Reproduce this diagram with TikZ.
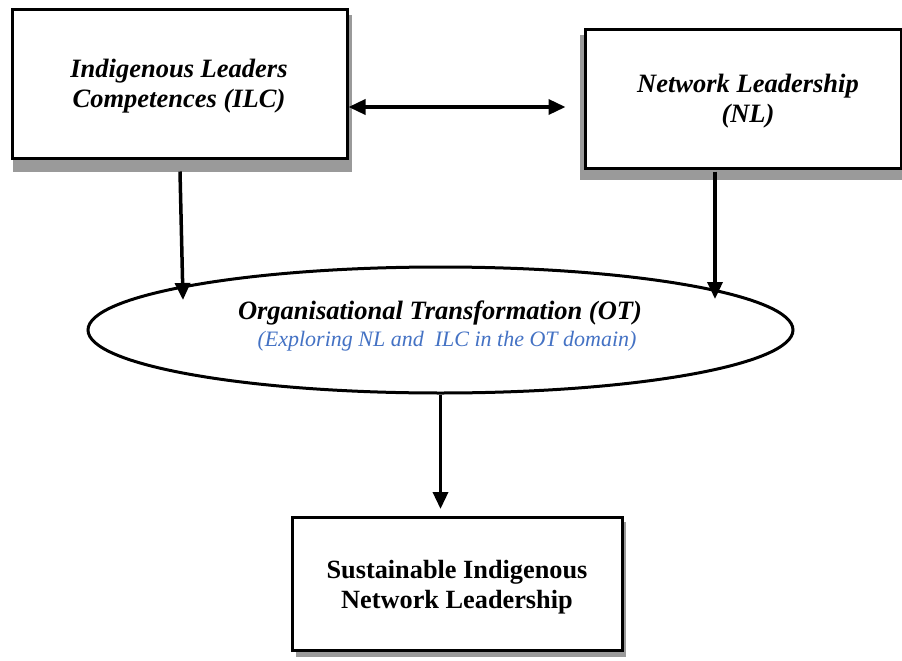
\documentclass[tikz,border=0pt]{standalone}
\usepackage{fontspec}
\setmainfont{Liberation Serif}
\usetikzlibrary{arrows.meta,shapes.geometric,calc}
\definecolor{notebl}{HTML}{4472C4}
\definecolor{shadowgray}{HTML}{9A9A9A}
\begin{document}
\begin{tikzpicture}[x=1pt,y=-1pt,
  box/.style={draw=black,line width=3pt,fill=white,rectangle,align=center,inner sep=0pt},
  oval/.style={draw=black,line width=3pt,fill=white,ellipse,inner sep=0pt},
  tip/.style={Triangle[length=17pt,width=15pt]},
  arr/.style={line width=3.5pt,-{Triangle[length=17pt,width=15pt]}},
  darr/.style={line width=3.5pt,{Triangle[length=17pt,width=15pt]}-{Triangle[length=17pt,width=15pt]}},
  lbl/.style={font=\fontsize{26.5}{30}\selectfont\bfseries\itshape,align=center},
]
\useasboundingbox (0,0) rectangle (902,661);
% drop shadows behind the boxes
\fill[shadowgray] (13,15) rectangle (352,172);
\fill[shadowgray] (580,35) rectangle (902,180);
\fill[shadowgray] (296,522) rectangle (626,657);
% boxes
\node[box,minimum width=335pt,minimum height=148pt] (ilc) at (179.5,84) {};
\node[box,minimum width=316pt,minimum height=138pt] (nl) at (743,99) {};
\node[box,minimum width=330pt,minimum height=133pt] (sinl) at (457,584) {};
\node[oval,minimum width=705pt,minimum height=126pt] (ot) at (440.5,330) {};
% labels
\node[lbl] (ilct) at (179,86) {Indigenous Leaders\\Competences (ILC)};
\node[lbl] (nlt) at (748,101) {Network Leadership\\(NL)};
\node[font=\fontsize{26.5}{30}\selectfont\bfseries\itshape] (ott) at (440,313) {Organisational Transformation (OT)};
\node[font=\fontsize{22}{26}\selectfont\itshape,text=notebl] (otn) at (447,341) {(Exploring NL and\ \ ILC in the OT domain)};
\node[font=\fontsize{26.3}{30}\selectfont\bfseries,align=center] (sinlt) at (457,587) {Sustainable Indigenous\\Network Leadership};
% connectors
\coordinate (ilcin) at (183,300);
\coordinate (nlin) at (715,299);
\draw[darr] (ilc.east |- 0,107) -- ([xshift=-18pt]nl.west |- 0,107);
\draw[arr] ([xshift=0.5pt,yshift=-12pt]ilc.south) -- (ilcin);
\draw[arr] (nl.south -| nlin) ++(0,2) -- (nlin);
\draw[arr] (ot.south) -- ([yshift=7pt]sinl.north -| ot.south);
\end{tikzpicture}
\end{document}
